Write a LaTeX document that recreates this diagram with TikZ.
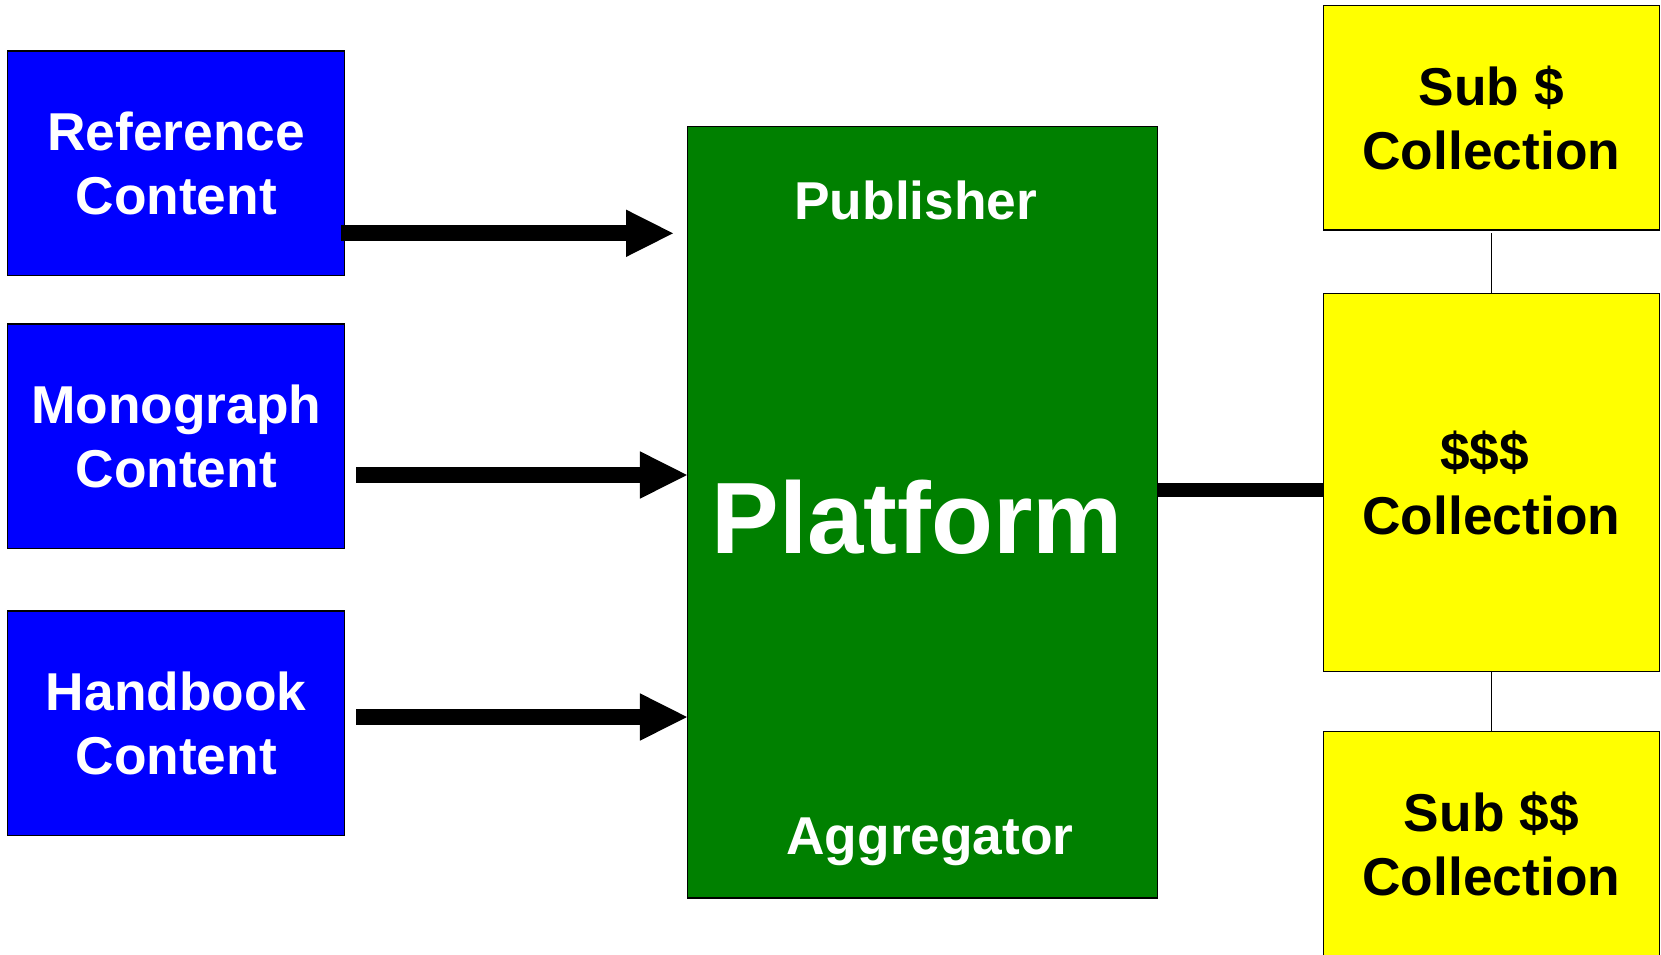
\documentclass[tikz,border=0pt]{standalone}
\usepackage{fontspec}
\setmainfont{Liberation Sans}
\usetikzlibrary{arrows.meta}

\definecolor{boxblue}{HTML}{0000FF}
\definecolor{boxgreen}{HTML}{008000}
\definecolor{boxyellow}{HTML}{FFFF00}

\tikzset{
  box/.style={draw=black, line width=1.5pt, rectangle, inner sep=0pt,
    align=center, font=\bfseries\fontsize{53.3pt}{64pt}\selectfont},
  contentbox/.style={box, fill=boxblue, text=white,
    minimum width=337pt, minimum height=224.7pt},
  platformbox/.style={box, fill=boxgreen,
    minimum width=469.8pt, minimum height=771.3pt},
  collbox/.style={box, fill=boxyellow, text=black, minimum width=336pt},
  rolelabel/.style={anchor=base, text=white, inner sep=0pt,
    font=\bfseries\fontsize{53.3pt}{64pt}\selectfont},
  biglabel/.style={anchor=base, text=white, inner sep=0pt,
    font=\bfseries\fontsize{101.4pt}{110pt}\selectfont},
  feedarrow/.style={line width=16pt,
    -{Triangle[length=47pt, width=47.4pt, line width=0pt]}},
  trunk/.style={line width=14.7pt},
  link/.style={line width=1.5pt},
}

\begin{document}
\begin{tikzpicture}[x=1pt, y=-1pt]
  \useasboundingbox (0,0) rectangle (1661,954);

  % content sources
  \node[contentbox] (ref)  at (176.2,163.35) {Reference\\Content};
  \node[contentbox] (mono) at (176.2,436.35) {Monograph\\Content};
  \node[contentbox] (hand) at (176.2,723.35) {Handbook\\Content};

  % platform
  \node[platformbox] (plat) at (922.6,512.35) {};
  \node[rolelabel] (pub) at (915.8,219.3) {Publisher};
  \node[biglabel]  (platname) at (917.4,553.3) {Platform};
  \node[rolelabel] (agg) at (930,854) {Aggregator};

  % collections
  \node[collbox, minimum height=224.3pt] (sub1) at (1491.3,117.85) {Sub \$\\Collection};
  \node[collbox, minimum height=378.4pt] (coll) at (1491.3,482.5) {\$\$\$\kern13.6pt\\Collection};
  \node[collbox, minimum height=225.3pt] (sub2) at (1491.3,844.35) {Sub \$\$\\Collection};

  % feeds into the platform
  \coordinate (r0) at (341,233.3);
  \coordinate (r1) at (673,233.3);
  \coordinate (m0) at (356,475);
  \coordinate (h0) at (356,717);
  \draw[feedarrow] (r0) -- (r1);
  \draw[feedarrow] (m0) -- (m0 -| plat.west);
  \draw[feedarrow] (h0) -- (h0 -| plat.west);

  % platform to collections
  \coordinate (j) at (1240,490);
  \draw[trunk] (j -| plat.east) -- (j -| coll.west);
  \draw[link] ([yshift=-2.5pt]sub1.south) -- (coll.north);
  \draw[link] (coll.south) -- (sub2.north);
\end{tikzpicture}
\end{document}
